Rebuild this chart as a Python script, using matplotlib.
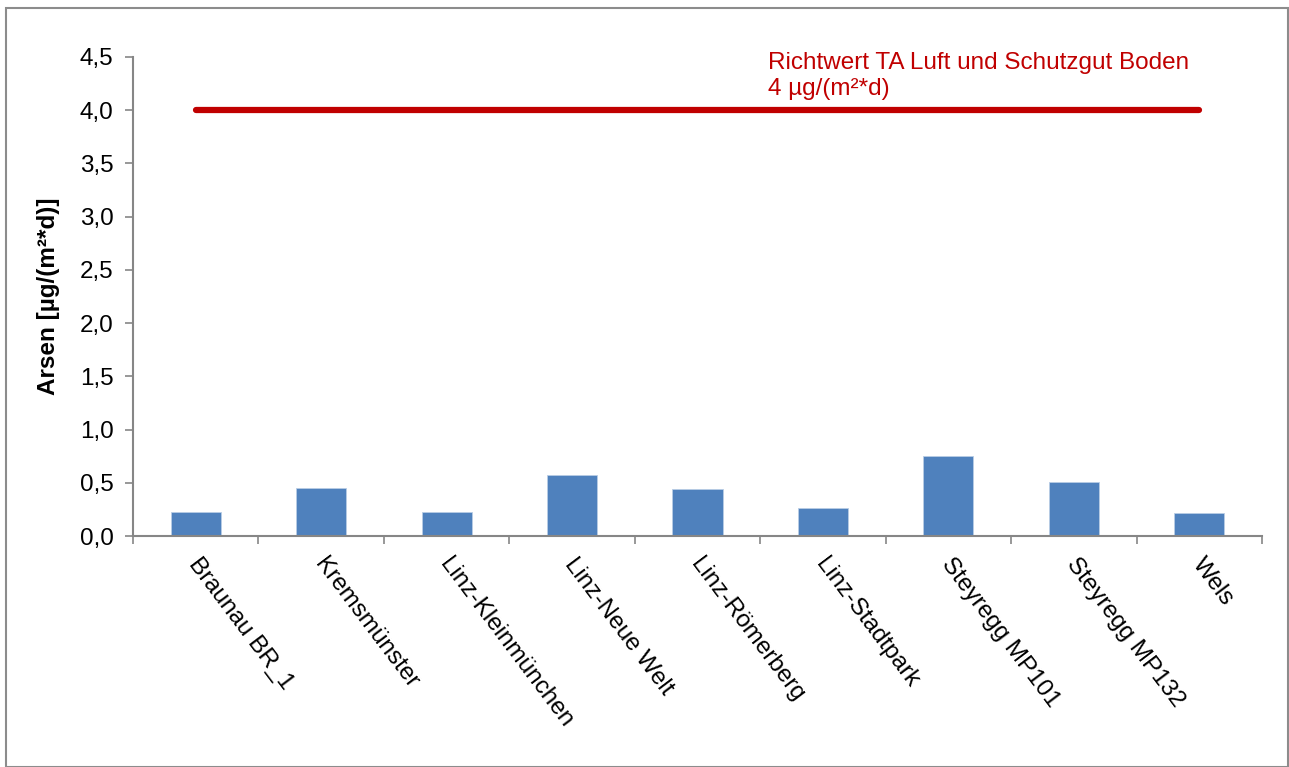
import matplotlib.pyplot as plt
import matplotlib.patches as mpatches
import matplotlib.transforms as mtransforms
import numpy as np
from matplotlib.ticker import FuncFormatter

plt.rcParams['font.family'] = ['Liberation Sans', 'DejaVu Sans']

stations = ['Braunau BR_1', 'Kremsmünster', 'Linz-Kleinmünchen', 'Linz-Neue Welt',
            'Linz-Römerberg', 'Linz-Stadtpark', 'Steyregg MP101', 'Steyregg MP132', 'Wels']
arsen = [0.23, 0.455, 0.225, 0.57, 0.44, 0.265, 0.75, 0.505, 0.22]
richtwert = [4.0] * len(stations)

fs = 17.5
W, H = 1289, 767
fig = plt.figure(figsize=(W / 100, H / 100), dpi=100)
# axes box in pixels: left 133, right 1262, top 57, bottom 536
ax = fig.add_axes([133 / W, 1 - 536 / H, (1262 - 133) / W, (536 - 57) / H])

# chart area border
fig.patches.append(mpatches.Rectangle((6 / W, 0), (1288 - 6) / W, 1 - 8 / H,
                                      transform=fig.transFigure, fill=False,
                                      edgecolor='#8c8c8c', linewidth=1.5))

x = np.arange(len(stations))
ax.bar(x, arsen, width=0.4, color='#4F81BD', edgecolor='#b9cde5', linewidth=0.6, zorder=2)
ax.plot(x, richtwert, color='#C00000', linewidth=4.5, solid_capstyle='round', zorder=3)

ax.text(4.56, 4.1, 'Richtwert TA Luft und Schutzgut Boden\n4 µg/(m²*d)',
        color='#C00000', fontsize=fs, ha='left', va='bottom', linespacing=1.2)

ax.set_xlim(-0.5, len(stations) - 0.5)
ax.set_ylim(0, 4.5)
ax.set_yticks(np.arange(0, 4.51, 0.5))
ax.yaxis.set_major_formatter(FuncFormatter(lambda v, p: f'{v:.1f}'.replace('.', ',')))

ax.set_xticks(x)
ax.set_xticklabels(stations, rotation=-53, ha='left', va='top', rotation_mode='anchor')
ax.set_xticks(np.arange(-0.5, len(stations)), minor=True)
ax.tick_params(axis='x', which='major', length=0, pad=13, labelsize=fs)
ax.tick_params(axis='x', which='minor', length=6, color='#868686', width=1.2)
ax.tick_params(axis='y', length=6, color='#868686', width=1.2, labelsize=fs, pad=8)

# nudge the slanted labels a little to the right
shift = mtransforms.ScaledTranslation(6 / 100, 0, fig.dpi_scale_trans)
for lbl in ax.get_xticklabels():
    lbl.set_transform(lbl.get_transform() + shift)

for s in ['top', 'right']:
    ax.spines[s].set_visible(False)
for s in ['left', 'bottom']:
    ax.spines[s].set_color('#868686')
    ax.spines[s].set_linewidth(1.5)

ax.set_ylabel('Arsen [µg/(m²*d)]', fontsize=fs, fontweight='bold', labelpad=14)

fig.savefig('out.png', dpi=100)
